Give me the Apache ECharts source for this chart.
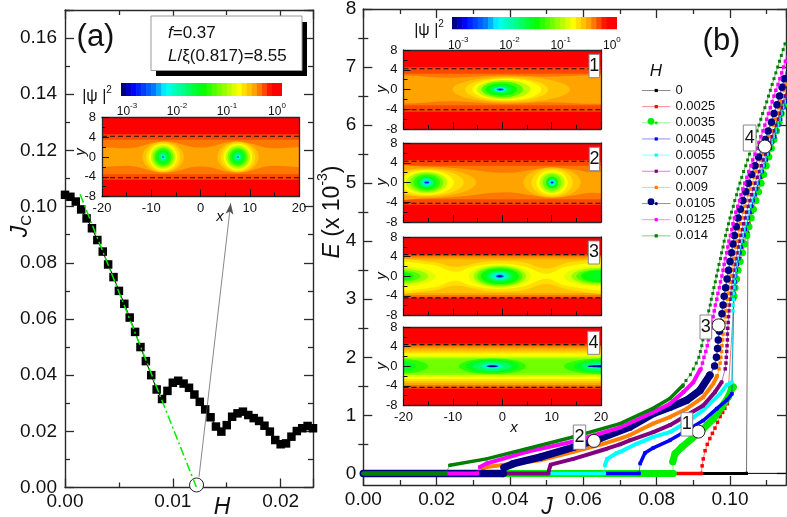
<!DOCTYPE html>
<html><head><meta charset="utf-8">
<script src="https://cdn.jsdelivr.net/npm/echarts@6/dist/echarts.min.js"></script>
<style>html,body{margin:0;padding:0;background:#fff}#c{width:787px;height:517px}</style></head>
<body><div id="c"></div>
<script>
// ---------- panel (a) ----------
const jcH = [0,.0005,.001,.0015,.002,.0025,.003,.0035,.004,.0045,.005,.0055,.006,.0065,.007,.0075,.008,.0085,.009,.0095,.01,.0105,.011,.0115,.012,.0125,.013,.0135,.014,.0145,.015,.0155,.016,.0165,.017,.0175,.018,.0185,.019,.0195,.02,.0205,.021,.0215,.022,.0225,.023];
const jcValues = [.1042,.1035,.1018,.099,.0958,.0923,.0881,.084,.0794,.0749,.07,.0654,.0605,.0554,.05,.045,.04,.0349,.0315,.0344,.0373,.038,.037,.0355,.0331,.0305,.0278,.025,.0217,.0199,.0222,.0252,.0264,.027,.0258,.0247,.0237,.022,.0199,.0169,.0154,.0157,.0181,.0201,.0211,.0219,.0211];
const fitLine = [[.0014,.1044],[.0122,0]];
const arrowFrom = [.01243,.0038], arrowTo = [.01537,.1012];
const openCircleA = [.0122,.0009];

// ---------- panel (b) ----------
const curveNames = ['0','0.0025','0.0035','0.0045','0.0055','0.007','0.009','0.0105','0.0125','0.014'];
const curveColors = ['#000000','#ff0000','#00ee00','#0000ff','#00ffff','#800080','#ff8000','#000080','#ff00ff','#008000'];
const upperE = [1.5,1.6,1.7,1.8,1.9,2,2.1,2.2,2.3,2.4,2.5,2.6,2.7,2.8,2.9,3,3.1,3.2,3.3,3.4,3.5,3.6,3.7,3.8,3.9,4,4.1,4.2,4.3,4.4,4.5,4.6,4.7,4.8,4.9,5,5.1,5.2,5.3,5.4,5.5,5.6,5.7,5.8,5.9,6,6.1,6.2,6.3,6.4,6.5,6.6,6.7,6.8,6.9,7,7.1,7.2,7.3,7.4];
const upperEWide = [1.85,2,2.15,2.3,2.45,2.6,2.75,2.9,3.05,3.2,3.35,3.5,3.65,3.8,3.95,4.1,4.25,4.4,4.55,4.7,4.85,5,5.15,5.3,5.45,5.6,5.75,5.9,6.05,6.2,6.35,6.5,6.65,6.8,6.95];

const flatEnd = [.1045,.0922,.0845,.0752,.0657,.0505,.0318,.0381,.0311,.0225];

const low0 = [];
const low0025 = [];
const low0035 = [[.0844,.2],[.085,.34],[.0868,.45],[.0896,.6],[.0927,.77],[.0955,.94],[.0977,1.14],[.0995,1.315],[.1005,1.46],[.1009,1.49]];
const low0045 = [[.0755,.17],[.0768,.35],[.0791,.44],[.0836,.57],[.0882,.74],[.0927,.91],[.0964,1.115],[.0991,1.26],[.1005,1.37]];
const low0055 = [[.0659,.14],[.0665,.25],[.0691,.35],[.07,.37],[.0745,.51],[.0791,.63],[.0836,.71],[.0882,.88],[.0927,1.09],[.0973,1.37],[.0991,1.52],[.1005,1.57]];
const low007 = [[.0506,.05],[.0511,.15],[.0573,.25],[.0664,.425],[.07,.5],[.0727,.57],[.0791,.71],[.0836,.83],[.0882,1.0],[.0927,1.17],[.0959,1.4],[.0977,1.57]];
const low009 = [[.0325,.08],[.0336,.11],[.0482,.224],[.0573,.37],[.065,.5],[.07,.6],[.0727,.66],[.079,.857],[.0836,.97],[.0882,1.115],[.0927,1.315],[.0955,1.55],[.0965,1.68]];
const low0105 = [[.0384,.1],[.0409,.167],[.0482,.28],[.0573,.45],[.0645,.6],[.0727,.8],[.0791,1.03],[.0836,1.14],[.0882,1.26],[.0918,1.43],[.0945,1.69]];
const low0125 = [[.0318,.11],[.0336,.17],[.0446,.37],[.0573,.55],[.07,.79],[.079,1.05],[.0836,1.2],[.0873,1.4],[.09,1.57],[.0918,1.78]];
const low014 = [[.0236,.14],[.0336,.25],[.0446,.425],[.0572,.626],[.07,.857],[.079,1.12],[.0836,1.29],[.0872,1.52]];

const sparse0 = [[.1045,0],[.1049,4.14],[.106,4.6],[.1085,5.2],[.111,5.7],[.1153,6.5]];
const sparse0025 = [[.0924,.13],[.0927,.25],[.0932,.39],[.0938,.5],[.0945,.6],[.0952,.69],[.0959,.78],[.0966,.88],[.0973,.98],[.098,1.05],[.0986,1.12],[.0993,1.2],[.1012,3.1],[.1016,3.3],[.102,3.5],[.1027,3.7],[.1034,3.9],[.1044,4.1],[.1052,4.3],[.106,4.5],[.1068,4.7],[.1077,4.9],[.1086,5.1],[.1095,5.3],[.1105,5.5],[.1114,5.7],[.1124,5.9],[.1133,6.1],[.1143,6.3],[.1152,6.5]];

const up0035 = [.1011,.1014,.1018,.1022,.1028,.1034,.104,.1046,.1052,.1058,.1064,.1071,.1078,.1085,.1092,.1099,.1106,.1113,.112,.1127,.1134,.114,.1147,.1153];
const up0045 = [.101,.1011,.1013,.1014,.1015,.1017,.102,.1024,.1027,.103,.1034,.1038,.1042,.1046,.105,.1054,.1059,.1063,.1068,.1072,.1077,.1082,.1088,.1093,.1099,.1104,.111,.1116,.1122,.1127,.1133,.1138,.1142,.1147,.1151,.1155];
const up0055 = [.1008,.1008,.1009,.101,.1011,.1012,.1013,.1014,.1017,.102,.1023,.1026,.103,.1034,.1038,.1042,.1046,.105,.1054,.1059,.1064,.1068,.1073,.1078,.1084,.109,.1095,.1101,.1107,.1113,.1118,.1124,.113,.1134,.1139,.1144,.1148,.1153];
const up007 = [.0987,.0989,.099,.0991,.0992,.0993,.0993,.0994,.0995,.0996,.0997,.0998,.1,.1002,.1004,.1006,.1008,.101,.1013,.1016,.1019,.1022,.1025,.1029,.1033,.1037,.1041,.1045,.1049,.1054,.1059,.1063,.1068,.1074,.1079,.1085,.109,.1096,.1102,.1108,.1113,.1119,.1125,.113,.1135,.114,.1144,.1149,.1154];
const up009 = [.097,.0973,.0975,.0977,.0978,.098,.0981,.0983,.0985,.0987,.0989,.0991,.0993,.0995,.0997,.1,.1002,.1005,.1007,.101,.1013,.1015,.1018,.1021,.1025,.1028,.1032,.1036,.104,.1045,.105,.1055,.106,.1066,.1071,.1077,.1082,.1088,.1094,.11,.1106,.1112,.1118,.1123,.1128,.1133,.1137,.1142,.1147,.1152,.1157];
const up0105 = [.0958,.0963,.0966,.0968,.0971,.0974,.0978,.0981,.0984,.0988,.0992,.0996,.1,.1004,.1008,.1012,.1017,.1022,.1028,.1035,.1043,.105,.1059,.1068,.1078,.1087,.1096,.1104,.1113,.112,.1128,.1135,.1142,.1148,.1155];
const up0125 = [.0921,.0925,.0929,.0934,.0938,.0941,.0945,.0948,.0951,.0954,.0957,.096,.0964,.0967,.0971,.0974,.0978,.0981,.0984,.0987,.0991,.0994,.0997,.1001,.1005,.1008,.1012,.1016,.1021,.1026,.103,.1035,.104,.1046,.1051,.1057,.1062,.1068,.1073,.1079,.1084,.109,.1095,.11,.1105,.111,.1115,.112,.1125,.1131,.1136,.1141,.1146,.1151,.1156];
const up014 = [.0871,.088,.0892,.09,.0908,.0915,.0919,.0923,.0926,.093,.0933,.0936,.0939,.0942,.0946,.0949,.0953,.0956,.096,.0963,.0967,.097,.0974,.0977,.0981,.0984,.0988,.0992,.0996,.1,.1004,.1009,.1013,.1018,.1022,.1027,.1032,.1037,.1043,.1048,.1053,.1058,.1063,.1069,.1074,.1079,.1084,.1089,.1095,.11,.1105,.111,.1115,.112,.1125,.113,.1135,.114,.1145,.115];

const openCirclesB = [[.0914,.72],[.0629,.56],[.0969,2.55],[.1095,5.63]];
const yTicksB = [0,1,2,3,4,5,6,7,8];
const yMinorB = [.5,1.5,2.5,3.5,4.5,5.5,6.5,7.5];

// ---------- colour scale ----------
const colorStopsT = [0,.06,.2,.27,.51,.74,.85,.95,1];
const colorStopsC = [[0,0,127],[0,0,255],[0,128,255],[0,255,255],[0,255,0],[255,255,0],[255,153,0],[255,0,0],[255,0,0]];
const colorbarTicks = [-3,-2,-1,0];

// ---------- insets: [level,h] flat band, [level,[[x,h],...]] wavy band, [level,cx,rx,ry] ellipse ----------
const insetA = [[31,9],[28,4.6],[27,3.5],
 [26,[[-24,1.7],[-14,1.8],[-10,2.8],[-7.5,3.2],[-5,2.9],[-2,2.1],[0,1.9],[2,2.1],[5,2.9],[7.5,3.2],[10,2.8],[14,1.8],[24,1.7]]],
 [25,-7.6,4.2,3.1],[24,-7.6,3.5,2.95],[23,-7.6,2.9,2.7],[21,-7.6,2.5,2.4],[19,-7.6,2.1,2.0],[17,-7.6,1.7,1.7],[15,-7.6,1.3,1.3],[13,-7.6,.9,.9],[10,-7.6,.5,.5],[6,-7.6,.22,.22],
 [25,7.6,4.2,3.1],[24,7.6,3.5,2.95],[23,7.6,2.9,2.7],[21,7.6,2.5,2.4],[19,7.6,2.1,2.0],[17,7.6,1.7,1.7],[15,7.6,1.3,1.3],[13,7.6,.9,.9],[10,7.6,.5,.5],[6,7.6,.22,.22]];
const inset1 = [[31,9],[28,4.5],[27,3.2],
 [26,[[-24,2.3],[-10,2.4],[0,2.9],[8,2.6],[24,2.2]]],
 [25,1.8,11.9,2.6],[24,.9,8.4,2.4],[23,.9,7,2.2],[21,.3,5.4,1.9],[18,0,4.2,1.6],[16,-.2,3.2,1.2],[14,-.3,2.2,.9],[9,-.4,1.3,.5],[4,-.4,.7,.2],[0,-.4,.3,.1]];
const inset2 = [[31,9],[28,4.5],[27,3.4],
 [26,[[-24,2.9],[-15,3.2],[-8,2.8],[-2,2.1],[2,2],[6,2.6],[10,3.1],[14,2.7],[18,2.1],[24,2]]],
 [25,-15.3,10,2.9],[24,-15.3,7.5,2.7],[23,-15.3,5.5,2.5],[21,-15.3,4.2,2.2],[19,-15.3,3.4,1.9],[17,-15.3,2.7,1.6],[15,-15.3,2,1.2],[12,-15.3,1.4,.9],[8,-15.3,.8,.5],[3,-15.3,.5,.2],
 [25,10.1,5.8,3],[24,10.1,4.2,2.8],[23,10.1,3.2,2.5],[21,10.1,2.5,2.1],[19,10.1,1.9,1.7],[15,10.1,1.2,1.2],[10,10.1,.7,.7],[3,10.1,.3,.2]];
const inset3 = [[31,9],[28,4.5],[27,4.2],[26,3.8],[25,3.4],
 [24,[[-24,3],[-14,2.9],[-9.5,1.9],[-4,2.9],[-.5,3.1],[4,2.9],[9,1.6],[14,2.9],[24,3]]],
 [23,[[-24,2.5],[-14,2.3],[-9.5,.9],[-6,2],[-.5,2.6],[4.5,2],[9,.5],[13,2],[24,2.5]]],
 [22,-.5,6.3,2.4],[20,-.5,5.3,2.1],[18,-.5,4.6,1.9],[16,-.5,3.9,1.6],[15,-.5,3.2,1.3],[13,-.5,2.5,1],[11,-.5,1.9,.8],[8,-.5,1.2,.5],[4,-.5,.8,.3],[0,-.5,.4,.15],
 [22,-21,7.5,2],[20,-21,6,1.6],[18,-21,4.5,1.2],[16,-21,3,.9],
 [22,19.5,7,2],[20,19.5,5.5,1.7],[18,19.5,4.5,1.4],[16,19.5,3.5,1.2],[15,19.5,2,.8]];
const inset4 = [[31,9],[28,4.6],[27,4.2],[26,3.8],[25,3.4],[24,3],[23,2.6],[22,2.2],[20,1.8],[19,1.4],
 [17,-2,6.8,1.6],[15,-2,5.4,1.3],[13,-2,3.9,1],[11,-2,2.2,.6],[8,-2,1.6,.35],[4,-2,1.2,.2],[0,-2,.9,.14],
 [17,20.5,8,1.6],[15,20.5,6,1.3],[13,20.5,4.5,1],[10,20.5,3.2,.5],[2,20.5,3.2,.25],[0,20.5,3.2,.12],
 [17,-21,6,1.5],[15,-21,3.5,1]];
const dashLevels = [[4.2,-4.2],[4.2,-4.1],[4.3,-4.2],[4.4,-4.4],[4.4,-4.3]];

// ---------- helpers ----------
const palette = [];
for (let i = 0; i < 32; i++) {
  const t = i / 31; let k = 0;
  while (k < colorStopsT.length - 2 && t > colorStopsT[k + 1]) k++;
  const f = (t - colorStopsT[k]) / (colorStopsT[k + 1] - colorStopsT[k]);
  const c = colorStopsC[k].map((v, n) => Math.round(v + (colorStopsC[k + 1][n] - v) * f));
  palette.push('rgb(' + c.join(',') + ')');
}
const FONT = '"Liberation Sans", Arial, sans-serif';
const lineCol = '#2a2a2a';
const BREAK = ['-', '-'];
function zipE(es, start, js) { const i = es.indexOf(start); return js.map((j, k) => [j, es[i + k]]); }

const grids = [], xAxes = [], yAxes = [], series = [];
function addGrid(l, t, w, h) { grids.push({ left: l, top: t, width: w, height: h, outerBoundsMode: 'none', containLabel: false }); }

function frameAxes(g, xBase, yBase, xTop, yRight) {
  const gi = grids.length - 1;
  xAxes.push(Object.assign({ gridIndex: gi, position: 'bottom' }, xBase));
  yAxes.push(Object.assign({ gridIndex: gi, position: 'left' }, yBase));
  xAxes.push(Object.assign({ gridIndex: gi, position: 'top' }, xTop));
  yAxes.push(Object.assign({ gridIndex: gi, position: 'right' }, yRight));
}
function lineOf(w) { return { show: true, onZero: false, lineStyle: { color: lineCol, width: w } }; }

// main panel (a)
addGrid(65, 10, 248, 477.5);
const mainXa = { type: 'value', min: 0, max: .023, interval: .01, z: 1, axisLine: lineOf(1.4), splitLine: { show: false },
  axisTick: { show: true, inside: true, length: 9, lineStyle: { color: lineCol, width: 1.3 } },
  minorTick: { show: true, splitNumber: 2, length: 5, lineStyle: { color: lineCol, width: 1.3 } } };
const mainYa = { type: 'value', min: 0, max: .17, interval: .02, z: 1, axisLine: lineOf(1.4), splitLine: { show: false },
  axisTick: { show: true, inside: true, length: 9, lineStyle: { color: lineCol, width: 1.3 } },
  minorTick: { show: true, splitNumber: 2, length: 5, lineStyle: { color: lineCol, width: 1.3 } } };
frameAxes(0,
  Object.assign({}, mainXa, { axisLabel: { show: true, showMaxLabel: false, margin: 5, fontFamily: FONT, fontSize: 19, color: '#111', formatter: v => v.toFixed(2) } }),
  Object.assign({}, mainYa, { axisLabel: { show: true, showMaxLabel: false, margin: 8, fontFamily: FONT, fontSize: 19, color: '#111', formatter: v => v.toFixed(2) } }),
  Object.assign({}, mainXa, { axisLabel: { show: false } }),
  Object.assign({}, mainYa, { axisLabel: { show: false } }));
const A = { xAxisIndex: 0, yAxisIndex: 0 };
series.push({ type: 'line', name: 'Jc', ...A, z: 4, data: jcH.map((h, i) => [h, jcValues[i]]), symbol: 'rect', symbolSize: 8.5,
  itemStyle: { color: '#000' }, lineStyle: { color: '#000', width: 1 } });
series.push({ type: 'scatter', ...A, z: 5, clip: false, data: [openCircleA], symbol: 'circle', symbolSize: 14,
  itemStyle: { color: '#fff', opacity: 1, borderColor: '#222', borderWidth: 1 } });
series.push({ type: 'line', ...A, z: 6, data: fitLine, symbol: 'none', clip: false,
  lineStyle: { color: '#00ee00', width: 1.5, type: [9, 3, 2, 3] },
  markLine: { silent: true, symbol: ['none', 'arrow'], symbolSize: [6, 11], label: { show: false }, animation: false,
    lineStyle: { color: '#555', width: .7, type: 'solid' },
    data: [[{ coord: arrowFrom }, { coord: arrowTo }]] } });

// main panel (b)
addGrid(363.3, 9, 422.7, 476);
const xB = { type: 'value', min: 0, max: .11527, interval: .02, z: 1, axisLine: lineOf(1.4), splitLine: { show: false },
  axisTick: { show: true, inside: true, length: 9, lineStyle: { color: lineCol, width: 1.3 } },
  minorTick: { show: true, splitNumber: 2, length: 5, lineStyle: { color: lineCol, width: 1.3 } } };
const yB = { type: 'value', min: -.2, max: 8, z: 1, axisLine: lineOf(1.4), splitLine: { show: false },
  axisTick: { show: true, inside: true, length: 9, customValues: yTicksB, lineStyle: { color: lineCol, width: 1.3 } } };
frameAxes(1,
  Object.assign({}, xB, { axisLabel: { show: true, showMaxLabel: false, margin: 5, fontFamily: FONT, fontSize: 19, color: '#111', formatter: v => v.toFixed(2) } }),
  Object.assign({}, yB, { axisLabel: { show: true, margin: 7, fontFamily: FONT, fontSize: 19, color: '#111', customValues: yTicksB, formatter: v => String(v) } }),
  Object.assign({}, xB, { axisLabel: { show: false } }),
  Object.assign({}, yB, { axisLabel: { show: false } }));
const yBMinor = { type: 'value', min: -.2, max: 8, z: 1, gridIndex: 1, splitLine: { show: false }, axisLine: { show: false }, axisLabel: { show: false },
  axisTick: { show: true, inside: true, length: 5, customValues: yMinorB, lineStyle: { color: lineCol, width: 1.3 } } };
yAxes.push(Object.assign({ position: 'left' }, yBMinor), Object.assign({ position: 'right' }, yBMinor));
const iB = xAxes.length - 2, iBy = yAxes.length - 4;
const B = { xAxisIndex: iB, yAxisIndex: iBy };

const curveLows = [low0, low0025, low0035, low0045, low0055, low007, low009, low0105, low0125, low014];
const curveUps = [sparse0, sparse0025, zipE(upperEWide, 3.05, up0035),
  zipE(upperE, 3, up0045), zipE(upperE, 2.8, up0055), zipE(upperE, 1.8, up007), zipE(upperE, 1.8, up009),
  zipE(upperEWide, 1.85, up0105), zipE(upperE, 1.8, up0125), zipE(upperE, 1.5, up014)];
const markerSize = [3, 3.5, 7, 3.5, 3.5, 3.5, 3.5, 7.5, 3.5, 3];
const bandWidth = [3, 3.5, 7, 3.5, 4, 4, 4, 7.5, 4, 3.5];
const lineWidth = [1, 1, 1, 1, 1, 1, 1, 1.5, 1.5, 1];
curveNames.forEach((name, i) => {
  const col = curveColors[i];
  const thin = [[flatEnd[i], 0]].concat(curveLows[i], curveUps[i]);
  series.push({ type: 'line', name, ...B, z: 3 + i * .01, data: thin,
    symbol: markerSize[i] >= 7 ? 'circle' : 'rect', symbolSize: markerSize[i], showSymbol: true, showAllSymbol: true,
    itemStyle: { color: col }, lineStyle: { color: col, width: lineWidth[i], opacity: .55 } });
  const band = [[0, 0], [flatEnd[i], 0]];
  if (curveLows[i].length) { band.push(BREAK); curveLows[i].forEach(p => band.push(p)); }
  series.push({ type: 'line', name, ...B, z: 3 + i * .01 + .005, data: band, symbol: 'none',
    lineStyle: { color: col, width: bandWidth[i], cap: 'round', join: 'round' }, itemStyle: { color: col } });
});
series.push({ type: 'line', ...B, z: 3, data: [[.1045, 0], [.11527, 0]], symbol: 'none', lineStyle: { color: '#000', width: 1 } });
series.push({ type: 'scatter', ...B, z: 6, clip: false, data: openCirclesB, symbol: 'circle', symbolSize: 13,
  itemStyle: { color: '#fff', opacity: 1, borderColor: '#222', borderWidth: 1 } });

// contour insets
function addInset(box, contours, dash, showX) {
  addGrid(box[0], box[1], box[2], box[3]);
  const xi = xAxes.length, yi = yAxes.length;
  const lbl = { fontFamily: FONT, fontSize: 13, color: '#111' };
  const xb = { type: 'value', min: -20, max: 20, interval: 10, z: 10, axisLine: lineOf(1.3), splitLine: { show: false } };
  const yb = { type: 'value', min: -8, max: 8, interval: 4, z: 10, axisLine: lineOf(1.3), splitLine: { show: false } };
  frameAxes(0,
    Object.assign({}, xb, { axisLabel: Object.assign({ show: showX, margin: 5 }, lbl),
      axisTick: { show: true, inside: true, length: 7, lineStyle: { color: '#111', width: 1 } },
      minorTick: { show: true, splitNumber: 2, length: 4, lineStyle: { color: '#111', width: 1 } } }),
    Object.assign({}, yb, { axisLabel: Object.assign({ show: true, margin: 6 }, lbl),
      axisTick: { show: true, inside: true, length: 7, lineStyle: { color: '#111', width: 1 } },
      minorTick: { show: true, splitNumber: 2, length: 4, lineStyle: { color: '#111', width: 1 } } }),
    Object.assign({}, xb, { axisLabel: { show: false }, axisTick: { show: false } }),
    Object.assign({}, yb, { axisLabel: { show: false }, axisTick: { show: false } }));
  series.push({ type: 'custom', xAxisIndex: xi, yAxisIndex: yi, z: 7, clip: true, silent: true,
    data: contours.map((c, i) => [0, 0, i]), encode: { x: 0, y: 1 },
    renderItem(params, api) {
      const c = contours[params.dataIndex], fill = palette[c[0]];
      if (c.length === 4) {
        const ctr = api.coord([c[1], 0]), sz = api.size([c[2], c[3]]);
        return { type: 'ellipse', shape: { cx: ctr[0], cy: ctr[1], rx: sz[0], ry: sz[1] }, style: { fill } };
      }
      const pts = Array.isArray(c[1]) ? c[1] : [[-24, c[1]], [24, c[1]]];
      const poly = pts.map(p => api.coord(p)).concat(pts.slice().reverse().map(p => api.coord([p[0], -p[1]])));
      return { type: 'polygon', shape: { points: poly, smooth: Array.isArray(c[1]) ? .35 : 0 }, style: { fill } };
    } });
  series.push({ type: 'line', xAxisIndex: xi, yAxisIndex: yi, z: 8, symbol: 'none', silent: true,
    data: [[-20, dash[0]], [20, dash[0]], BREAK, [-20, dash[1]], [20, dash[1]]],
    lineStyle: { color: '#111', width: 1.1, type: [5, 3] } });
}
addInset([102, 117.5, 197, 79], insetA, dashLevels[0], true);
addInset([403.5, 50, 197.5, 79], inset1, dashLevels[1], false);
addInset([403.5, 143, 197.5, 79], inset2, dashLevels[2], false);
addInset([403.5, 237, 197.5, 78.5], inset3, dashLevels[3], false);
addInset([403.5, 327, 197.5, 78.5], inset4, dashLevels[4], true);

// colour bars
function addBar(box) {
  addGrid(box[0], box[1], box[2], box[3]);
  const gi = grids.length - 1, xi = xAxes.length, yi = yAxes.length;
  xAxes.push({ gridIndex: gi, type: 'value', min: box[4], max: box[5], axisLine: { show: false }, axisTick: { show: false }, splitLine: { show: false },
    axisLabel: { show: true, margin: 6, customValues: colorbarTicks, formatter: v => '{b|10}{s|' + v + '}',
      rich: { b: { fontFamily: FONT, fontSize: 12, color: '#111', verticalAlign: 'bottom', lineHeight: 16 },
              s: { fontFamily: FONT, fontSize: 8, color: '#111', verticalAlign: 'top', lineHeight: 16 } } } });
  yAxes.push({ gridIndex: gi, type: 'value', min: 0, max: 1, show: false, splitLine: { show: false } });
  series.push({ type: 'custom', xAxisIndex: xi, yAxisIndex: yi, z: 7, silent: true, clip: true,
    data: palette.map((c, i) => [box[4], 0, i]), encode: { x: 0, y: 1 },
    renderItem(params, api) {
      const n = palette.length, i = params.dataIndex, w = (box[5] - box[4]) / n;
      const a = api.coord([box[4] + i * w, 1]), b = api.coord([box[4] + (i + 1) * w, 0]);
      return { type: 'rect', shape: { x: a[0], y: a[1], width: b[0] - a[0] + .6, height: b[1] - a[1] }, style: { fill: palette[i] } };
    } });
}
addBar([121, 83, 161, 13, -3.12, .1]);
addBar([452, 17, 165, 12.5, -3.12, .1]);

// annotations
const T = (text, x, y, size, extra) => ({ type: 'text', z: 50, x, y, rotation: extra && extra.rotation || 0,
  style: Object.assign({ text, fontFamily: FONT, fontSize: size, fill: '#111', textAlign: 'center', textVerticalAlign: 'middle' }, extra && extra.style) });
const numBox = (txt, x0, y0, x1, y1) => [
  { type: 'rect', z: 40, shape: { x: x0, y: y0, width: x1 - x0, height: y1 - y0 }, style: { fill: '#fff', stroke: '#888', lineWidth: 1 } },
  T(txt, (x0 + x1) / 2, (y0 + y1) / 2, 18)];
const graphic = [
  { type: 'rect', z: 30, shape: { x: 156, y: 22, width: 151, height: 54 }, style: { fill: '#000' } },
  { type: 'rect', z: 31, shape: { x: 151, y: 16, width: 151, height: 54.5 }, style: { fill: '#fff', stroke: '#999', lineWidth: 1 } },
  T('{i|f}{n|=0.37}', 168, 33, 17, { style: { textAlign: 'left', rich: { i: { fontFamily: FONT, fontStyle: 'italic', fontSize: 17, fill: '#111' }, n: { fontFamily: FONT, fontSize: 17, fill: '#111' } } } }),
  T('{i|L}{n|/ξ(0.817)=8.55}', 168, 56, 17, { style: { textAlign: 'left', rich: { i: { fontFamily: FONT, fontStyle: 'italic', fontSize: 17, fill: '#111' }, n: { fontFamily: FONT, fontSize: 17, fill: '#111' } } } }),
  T('(a)', 95.5, 37, 31),
  T('(b)', 721.5, 41, 31),
  T('H', 222, 508, 23, { style: { fontStyle: 'italic' } }),
  T('J', 547, 508, 23, { style: { fontStyle: 'italic' } }),
  T('{i|J}{s|C}', 21, 226, 23, { rotation: Math.PI / 2, style: { rich: { i: { fontFamily: FONT, fontStyle: 'italic', fontSize: 23, fill: '#111', lineHeight: 26 }, s: { fontFamily: FONT, fontSize: 15, fill: '#111', lineHeight: 26, verticalAlign: 'bottom' } } } }),
  T('{i|E}{n| (x 10}{s|-3}{n|)}', 330, 212, 23, { rotation: Math.PI / 2, style: { rich: {
    i: { fontFamily: FONT, fontStyle: 'italic', fontSize: 23, fill: '#111', lineHeight: 28, verticalAlign: 'bottom' },
    n: { fontFamily: FONT, fontSize: 23, fill: '#111', lineHeight: 28, verticalAlign: 'bottom' },
    s: { fontFamily: FONT, fontSize: 14, fill: '#111', lineHeight: 28, verticalAlign: 'top' } } } }),
  T('{n||ψ |}{s|2}', 97, 95, 16, { style: { rich: { n: { fontFamily: FONT, fontSize: 16, fill: '#111', lineHeight: 20, verticalAlign: 'bottom' }, s: { fontFamily: FONT, fontSize: 10, fill: '#111', lineHeight: 20, verticalAlign: 'top' } } } }),
  T('{n||ψ |}{s|2}', 429, 29, 16, { style: { rich: { n: { fontFamily: FONT, fontSize: 16, fill: '#111', lineHeight: 20, verticalAlign: 'bottom' }, s: { fontFamily: FONT, fontSize: 10, fill: '#111', lineHeight: 20, verticalAlign: 'top' } } } }),
  T('x', 220, 217, 15, { style: { fontStyle: 'italic' } }),
  T('x', 514, 428, 15, { style: { fontStyle: 'italic' } }),
  T('y', 81, 152, 15, { rotation: Math.PI / 2, style: { fontStyle: 'italic' } }),
  T('y', 382, 89, 15, { rotation: Math.PI / 2, style: { fontStyle: 'italic' } }),
  T('y', 382, 182, 15, { rotation: Math.PI / 2, style: { fontStyle: 'italic' } }),
  T('y', 382, 276, 15, { rotation: Math.PI / 2, style: { fontStyle: 'italic' } }),
  T('y', 382, 366, 15, { rotation: Math.PI / 2, style: { fontStyle: 'italic' } }),
  T('H', 656, 71, 17, { style: { fontStyle: 'italic' } }),
  ...numBox('1', 589, 54.3, 599.5, 77.7),
  ...numBox('2', 589.3, 147.3, 599.5, 170.7),
  ...numBox('3', 588.3, 241, 599.5, 264),
  ...numBox('4', 587.7, 331.3, 599.5, 354.3),
  ...numBox('1', 681, 412.7, 692.7, 436),
  ...numBox('2', 573.3, 425, 585.7, 449.3),
  ...numBox('3', 700, 315, 711.7, 339),
  ...numBox('4', 743.3, 125, 756, 151),
  { type: 'circle', z: 45, shape: { cx: 651, cy: 121.3, r: 3.4 }, style: { fill: curveColors[2] } },
  { type: 'circle', z: 45, shape: { cx: 651, cy: 201.7, r: 3.4 }, style: { fill: curveColors[7] } }
];

const chart = echarts.init(document.getElementById('c'), null, { renderer: 'canvas' });
chart.setOption({
  animation: false, backgroundColor: '#fff',
  textStyle: { fontFamily: FONT },
  grid: grids, xAxis: xAxes, yAxis: yAxes, series, graphic,
  legend: { data: curveNames, orient: 'vertical', left: 636.5, top: 78, itemWidth: 28.5, itemHeight: 4, itemGap: 1.15, selectedMode: false,
    lineStyle: { opacity: .45, width: 1 },
    textStyle: { fontFamily: FONT, fontSize: 13, color: '#111', lineHeight: 15, height: 15 } }
});
</script></body></html>
